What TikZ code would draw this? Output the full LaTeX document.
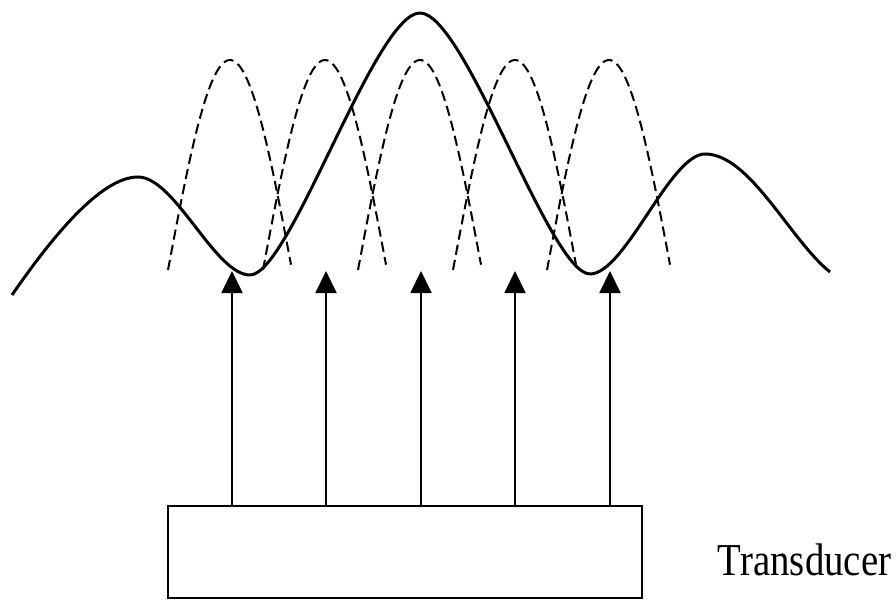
\documentclass[tikz,border=0pt]{standalone}
\usepackage{fontspec}
\setmainfont{Liberation Serif}
\usetikzlibrary{arrows.meta}
\begin{document}
\begin{tikzpicture}[x=0.1mm,y=-0.1mm,
  wave/.style={line width=0.85pt, line join=round},
  beam/.style={line width=0.57pt, dash pattern=on 2.9pt off 1.5pt},
  arr/.style={line width=0.57pt, -{Triangle[length=6.3pt,width=6pt]}},
  box/.style={draw, line width=0.57pt, minimum width=4.74cm, minimum height=0.92cm, inner sep=0pt},
  lbl/.style={inner sep=0pt, font=\fontsize{13}{15}\selectfont}]
\useasboundingbox (0,0) rectangle (896,601);
\node[box] (tr) at (405,552) {};
\node[lbl, anchor=base east] (lab) at (892,576) {\scalebox{0.85}[1]{Transducer}};
\foreach \i/\x in {1/232,2/326,3/421,4/515,5/610} {
  \coordinate (t\i) at (\x,271);
  \draw[arr] (tr.north -| t\i) -- (t\i);
}
\foreach \x in {230,325,420,515,609} {
  \draw[beam] plot[domain=-62:61, samples=60, smooth, variable=\u] ({\x+\u},{60+210*(1-cos(180*\u/124))});
}
\draw[wave] (12,295) .. controls (50,240) and (100,177) .. (138,177)
 .. controls (175,177) and (215,275) .. (250,275)
 .. controls (290,275) and (375,13) .. (420,13)
 .. controls (465,13) and (550,274) .. (590,274)
 .. controls (625,274) and (670,154) .. (705,154)
 .. controls (750,154) and (790,240) .. (830,272);
\end{tikzpicture}
\end{document}
